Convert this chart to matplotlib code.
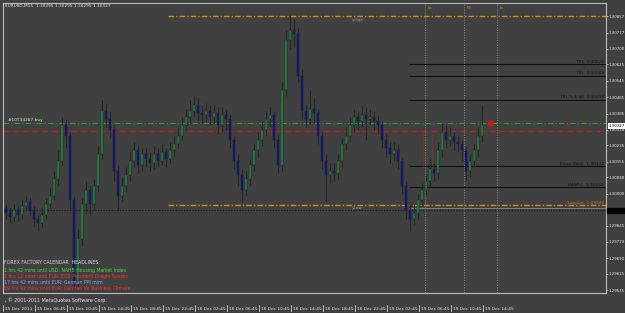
"""MT4 style EURUSD M15 chart with trade levels and news headlines."""

import matplotlib

matplotlib.use("Agg")
import matplotlib.pyplot as plt
from matplotlib.patches import Rectangle
from matplotlib.transforms import blended_transform_factory

title_text = "EURUSD,M15  1.30295 1.30295 1.30295 1.30327"

# one candle per half hour
first_open = 1.2993
closes = [
    1.2991, 1.2989, 1.2992, 1.2990, 1.2994, 1.2996, 1.2992, 1.2988, 1.2986, 1.2990,
    1.2995, 1.2999, 1.3007, 1.3016, 1.3033, 1.3028, 1.2997, 1.2958, 1.2978, 1.2995,
    1.3002, 1.2995, 1.3004, 1.3019, 1.3040, 1.3036, 1.3031, 1.3011, 1.2999, 1.3004,
    1.3009, 1.3016, 1.3021, 1.3014, 1.3019, 1.3017, 1.3015, 1.3019, 1.3016, 1.3020,
    1.3017, 1.3021, 1.3024, 1.3028, 1.3033, 1.3037, 1.3040, 1.3043, 1.3039, 1.3038,
    1.3040, 1.3037, 1.3039, 1.3033, 1.3038, 1.3036, 1.3026, 1.3016, 1.3009, 1.3002,
    1.3007, 1.3014, 1.3021, 1.3026, 1.3031, 1.3036, 1.3038, 1.3026, 1.3014, 1.3050,
    1.3074, 1.3079, 1.3077, 1.3057, 1.3040, 1.3036, 1.3041, 1.3039, 1.3028, 1.3016,
    1.3009, 1.3011, 1.3010, 1.3016, 1.3024, 1.3028, 1.3033, 1.3037, 1.3035, 1.3038,
    1.3036, 1.3037, 1.3035, 1.3033, 1.3026, 1.3022, 1.3019, 1.3021, 1.3016, 1.3004,
    1.2992, 1.2988, 1.2991, 1.2997, 1.3002, 1.3006, 1.3012, 1.3010, 1.3021, 1.3030,
    1.3026, 1.3028, 1.3025, 1.3024, 1.3021, 1.3011, 1.3016, 1.3021, 1.3028, 1.3033,
]
highs = [
    1.2995, 1.2993, 1.2995, 1.2994, 1.2997, 1.2999, 1.2998, 1.2994, 1.2990, 1.2993,
    1.2998, 1.3003, 1.3011, 1.3021, 1.3037, 1.3036, 1.3030, 1.2999, 1.2983, 1.2998,
    1.3006, 1.3004, 1.3007, 1.3023, 1.3045, 1.3044, 1.3040, 1.3033, 1.3014, 1.3008,
    1.3013, 1.3020, 1.3025, 1.3023, 1.3022, 1.3022, 1.3020, 1.3023, 1.3022, 1.3024,
    1.3022, 1.3025, 1.3028, 1.3032, 1.3037, 1.3041, 1.3045, 1.3047, 1.3046, 1.3043,
    1.3044, 1.3043, 1.3043, 1.3042, 1.3042, 1.3041, 1.3038, 1.3028, 1.3019, 1.3012,
    1.3011, 1.3017, 1.3024, 1.3030, 1.3035, 1.3040, 1.3042, 1.3040, 1.3029, 1.3054,
    1.3079, 1.3086, 1.3085, 1.3080, 1.3060, 1.3043, 1.3050, 1.3046, 1.3041, 1.3030,
    1.3019, 1.3015, 1.3015, 1.3019, 1.3027, 1.3032, 1.3037, 1.3041, 1.3040, 1.3043,
    1.3042, 1.3041, 1.3040, 1.3038, 1.3035, 1.3029, 1.3025, 1.3025, 1.3024, 1.3018,
    1.3006, 1.2995, 1.2995, 1.3000, 1.3005, 1.3009, 1.3017, 1.3015, 1.3025, 1.3034,
    1.3033, 1.3032, 1.3030, 1.3028, 1.3026, 1.3023, 1.3019, 1.3024, 1.3032, 1.3043,
]
lows = [
    1.2988, 1.2986, 1.2987, 1.2987, 1.2988, 1.2992, 1.2990, 1.2984, 1.2982, 1.2984,
    1.2988, 1.2993, 1.2997, 1.3004, 1.3014, 1.3022, 1.2992, 1.2954, 1.2955, 1.2975,
    1.2991, 1.2990, 1.2992, 1.3001, 1.3017, 1.3032, 1.3027, 1.3006, 1.2992, 1.2996,
    1.3001, 1.3006, 1.3013, 1.3010, 1.3011, 1.3013, 1.3011, 1.3012, 1.3013, 1.3014,
    1.3013, 1.3015, 1.3018, 1.3022, 1.3026, 1.3031, 1.3034, 1.3037, 1.3035, 1.3034,
    1.3035, 1.3033, 1.3034, 1.3029, 1.3030, 1.3031, 1.3022, 1.3012, 1.3004, 1.2996,
    1.2999, 1.3004, 1.3011, 1.3018, 1.3023, 1.3028, 1.3032, 1.3022, 1.3010, 1.3011,
    1.3047, 1.3070, 1.3071, 1.3054, 1.3036, 1.3032, 1.3033, 1.3034, 1.3024, 1.3012,
    1.2996, 1.3005, 1.3006, 1.3007, 1.3013, 1.3021, 1.3025, 1.3030, 1.3031, 1.3032,
    1.3026, 1.3033, 1.3031, 1.3029, 1.3022, 1.3018, 1.3015, 1.3016, 1.3012, 1.3000,
    1.2988, 1.2982, 1.2985, 1.2988, 1.2994, 1.2999, 1.3003, 1.3006, 1.3007, 1.3018,
    1.3022, 1.3023, 1.3021, 1.3020, 1.3016, 1.3006, 1.3008, 1.3013, 1.3018, 1.3025,
]
opens = [first_open] + closes[:-1]

price_ticks = [
    1.30857, 1.30777, 1.30700, 1.30625, 1.30545, 1.30465, 1.30385, 1.30310, 1.30235,
    1.30155, 1.30080, 1.30000, 1.29925, 1.29845, 1.29770, 1.29690, 1.29615, 1.29535,
]
time_labels = [
    "15 Dec 2011", "15 Dec 06:45", "15 Dec 10:45", "15 Dec 14:45", "15 Dec 18:45",
    "15 Dec 22:45", "16 Dec 02:45", "16 Dec 06:45", "16 Dec 10:45", "16 Dec 14:45",
    "16 Dec 18:45", "16 Dec 22:45", "19 Dec 02:45", "19 Dec 06:45", "19 Dec 10:45",
    "19 Dec 14:45",
]

y_high, y_low = 1.30857, 1.29946
support_price = 1.29920
order_price = 1.30341
stop_price = 1.30305
bid_price = 1.30327
target_names = ["TP3  1.30625", "TP2  1.30569", "TP1 S: 6.66  1.30454",
                "Entry Zone  1.30132", "BASP C  1.30031"]
target_prices = [1.30625, 1.30569, 1.30454, 1.30132, 1.30031]
session_names = ["Lo", "M", "Lc"]
session_bars = [104.75, 114.5, 122.75]

headlines = [
    ("FOREX FACTORY CALENDAR  HEADLINES:", "#d8d8d8"),
    ("1 hrs 42 mins until USD: NAHB Housing Market Index", "#44dd44"),
    ("2 hrs 12 mins until EUR: ECB President Draghi Speaks", "#ff3030"),
    ("17 hrs 42 mins until EUR: German PPI m/m", "#9a9aff"),
    ("19 hrs 42 mins until EUR: German Ifo Business Climate", "#ff3030"),
]

bg = "#404040"
frame = "#bdbdbd"
txt = "#ececec"
fs = 3.1

fig = plt.figure(figsize=(6.25, 3.13), dpi=100, facecolor=bg)
ax = fig.add_axes([3 / 625, 20 / 313, 603 / 625, 290 / 313], facecolor=bg)
ax.set_xlim(-0.75, 150)
ax.set_ylim(1.29522, 1.30920)
for side in ["top", "bottom", "left", "right"]:
    ax.spines[side].set_color(frame)
    ax.spines[side].set_linewidth(0.8)

# candles
for i, (o, h, l, c) in enumerate(zip(opens, highs, lows, closes)):
    ax.vlines(i, l, h, color="#262626", lw=0.8, zorder=3)
    col = "#1f8f4a" if c >= o else "#16168a"
    ax.bar(i, max(abs(c - o), 0.00004), bottom=min(o, c), width=0.72,
           color=col, edgecolor="#1a1a1a", lw=0.3, zorder=4)

# day high / low
ax.hlines([y_high, y_low], 40.5, 150, colors="#d9891c", lw=1.0,
          linestyles=(0, (4, 1.5, 1, 1.5)), zorder=2)
ax.text(86.5, y_high - 0.00008, "yHigh", color="#9a9a9a", fontsize=fs, va="top")
ax.text(86.5, y_low - 0.00006, "yLow", color="#9a9a9a", fontsize=fs, va="top")

# order lines
ax.axhline(order_price, color="#3a9a3a", lw=0.8, ls=(0, (5, 2, 1, 2)), zorder=2)
ax.axhline(stop_price, color="#c81818", lw=1.0, ls=(0, (4, 3)), zorder=2)
ax.axhline(support_price, color="#151515", lw=0.8, ls=(0, (1, 1.5)), zorder=2)
ax.hlines(support_price + 0.00012, 100.75, 150, colors="#8a8a8a", lw=0.6, zorder=2)
ax.text(0.5, order_price + 0.00006, "#10734287 buy", color=txt, fontsize=fs, va="bottom")
ax.plot(121, order_price, "s", color="#e01010", ms=2.2, zorder=5)
ax.text(149.5, y_low + 0.00001, "Support  1.29946", color="#c07a20", fontsize=fs,
        ha="right", va="bottom")

# targets
ax.hlines(target_prices, 100.75, 150, colors="#101010", lw=0.8, zorder=2)
for name, p in zip(target_names, target_prices):
    ax.text(149.5, p + 0.00003, name, color="#121212", fontsize=fs,
            ha="right", va="bottom")

# session markers
for name, b in zip(session_names, session_bars):
    ax.axvline(b, color="#8a8a8a", lw=0.6, ls=(0, (1.5, 1.5)), zorder=1)
    ax.text(b + 0.6, 1.30905, name, color="#a8a840", fontsize=fs, va="top")
ax.vlines([104.25, 106.5], 1.3012, 1.3030, colors="#c82020", lw=0.6,
          linestyles=(0, (1, 1.5)), zorder=2)

# right price axis
ax.yaxis.tick_right()
ax.set_yticks(price_ticks)
ax.set_yticklabels([f"{p:.5f}" for p in price_ticks])
ax.tick_params(axis="y", colors=txt, labelsize=2.8, length=1.5, width=0.6, pad=0.6)
ax.tick_params(axis="y", which="both", color=frame)
ax.set_xticks([])
yb = blended_transform_factory(ax.transAxes, ax.transData)
ax.text(1.004, bid_price, f"{bid_price:.5f}", transform=yb, fontsize=2.8,
        color="black", va="center",
        bbox=dict(boxstyle="square,pad=0.2", fc="white", ec="none"), clip_on=False)
ax.add_patch(Rectangle((1.001, support_price - 0.00014), 0.033, 0.00028,
                       transform=yb, color="black", clip_on=False, zorder=6))

# time axis
tb = blended_transform_factory(ax.transData, fig.transFigure)
for k, lab in enumerate(time_labels):
    x = 8 * k - 0.75
    ax.plot([x, x], [1 - 305 / 313, 1 - 311 / 313], transform=tb, color=txt,
            lw=0.5, clip_on=False)
    ax.text(x + 0.5, 1 - 308.5 / 313, lab, transform=tb, fontsize=fs, color=txt,
            va="center", ha="left")

fig.text(5 / 625, 1 - 6 / 313, title_text, fontsize=fs, color=txt, va="center")
fig.text(5 / 625, 1 - 300 / 313, ", \u00a9 2001-2011 MetaQuotes Software Corp.",
         fontsize=3.4, color=txt, va="center")
for (line, col), ypix in zip(headlines, [263, 270.5, 276.5, 282.5, 288.5]):
    fig.text(4 / 625, 1 - ypix / 313, line, fontsize=3.3, color=col, va="center")

fig.savefig("out.png", dpi=100, facecolor=bg)
